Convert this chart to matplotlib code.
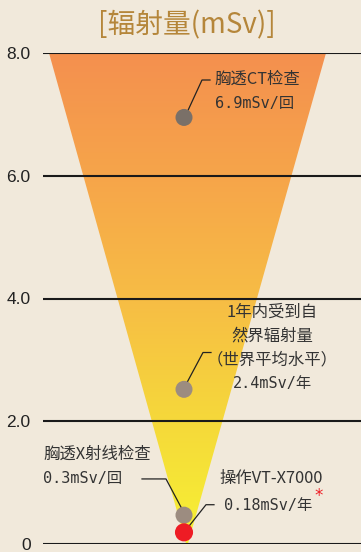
import matplotlib
matplotlib.use('Agg')

import matplotlib.pyplot as plt
import numpy as np
from matplotlib.colors import LinearSegmentedColormap
from matplotlib.patches import Polygon

plt.rcParams['font.family'] = ['Noto Sans CJK SC', 'DejaVu Sans']

# данные
y_ticks = [0, 2, 4, 6, 8]
y_labels = ['0', '2.0', '4.0', '6.0', '8.0']
point_names = ['胸透CT检查', '自然界辐射量', '胸透X射线检查', '操作VT-X7000']
point_values = [6.95, 2.52, 0.47, 0.19]   # положение точек на картинке
point_colors = ['#7a7068', '#9c8c80', '#9c8c80', '#ee1c24']

bg = '#f1e9db'
fig = plt.figure(figsize=(3.61, 5.52), dpi=100, facecolor=bg)
ax = fig.add_axes([43 / 361, 8 / 552, 1 - 43 / 361, 491 / 552])
ax.set_facecolor(bg)
ax.set_xlim(43, 361)
ax.set_ylim(0, 8)

# треугольник с градиентом
tri = Polygon([(49, 8), (326, 8), (187, -0.05)], closed=True,
              facecolor='none', edgecolor='none')
ax.add_patch(tri)
cmap = LinearSegmentedColormap.from_list(
    'rad', [(0, '#f7f233'), (0.25, '#f5d93a'), (0.5, '#f7bd45'),
            (0.75, '#f6a54a'), (1, '#f4904f')])
grad = np.linspace(0, 1, 256).reshape(-1, 1)
im = ax.imshow(grad, extent=(49, 326, -0.05, 8), origin='lower', cmap=cmap,
               aspect='auto', zorder=1)
im.set_clip_path(tri)

# линии сетки
for t in y_ticks:
    ax.axhline(t, color='#1a1a1a', lw=1.5, zorder=2)

for sp in ax.spines.values():
    sp.set_visible(False)
ax.set_xticks([])
ax.set_yticks(y_ticks)
ax.set_yticklabels(y_labels, fontfamily='Liberation Sans', fontsize=12.5,
                   color='#222222')
ax.tick_params(axis='y', length=0, pad=9)

# точки
ax.scatter([184] * 4, point_values, s=[150, 150, 150, 170], c=point_colors,
           zorder=4, linewidths=0)

# подписи и выноски
txt = dict(fontsize=11.8, color='#333333', zorder=5)
num = dict(fontsize=11, color='#333333', zorder=5,
           family=['DejaVu Sans Mono', 'Noto Sans CJK SC'])
lk = dict(color='#222222', lw=0.9, zorder=3)

ax.plot([187, 202, 210], [7.03, 7.56, 7.56], **lk)
ax.text(214, 7.57, '胸透CT检查', va='center', ha='left', **txt)
ax.text(215, 7.18, '6.9mSv/回', va='center', ha='left', **num)

ax.plot([186, 203, 211], [2.6, 3.12, 3.12], **lk)
for i, s in enumerate(['1年内受到自', '然界辐射量', '（世界平均水平）']):
    ax.text(272, 3.77 - i * 0.385, s, va='center', ha='center', **txt)
ax.text(272, 3.77 - 3 * 0.385, '2.4mSv/年', va='center', ha='center', **num)

ax.text(43, 1.47, '胸透X射线检查', va='center', ha='left', **txt)
ax.text(43, 1.06, '0.3mSv/回', va='center', ha='left', **num)
ax.plot([142, 166, 182], [1.06, 1.06, 0.57], **lk)

ax.text(219, 1.06, '操作VT-X7000', va='center', ha='left', **txt)
ax.text(224, 0.63, '0.18mSv/年', va='center', ha='left', **num)
ax.text(314, 0.78, '*', va='center', ha='left', fontsize=12,
        fontfamily='DejaVu Sans', color='#ee1c24')
ax.plot([188, 206, 214], [0.27, 0.64, 0.64], **lk)

fig.text(187 / 361, 1 - 25 / 552, '[辐射量(mSv)]', ha='center', va='center',
         fontsize=20, color='#b5863a')

plt.savefig('out.png', dpi=100, facecolor=bg)
plt.close(fig)
